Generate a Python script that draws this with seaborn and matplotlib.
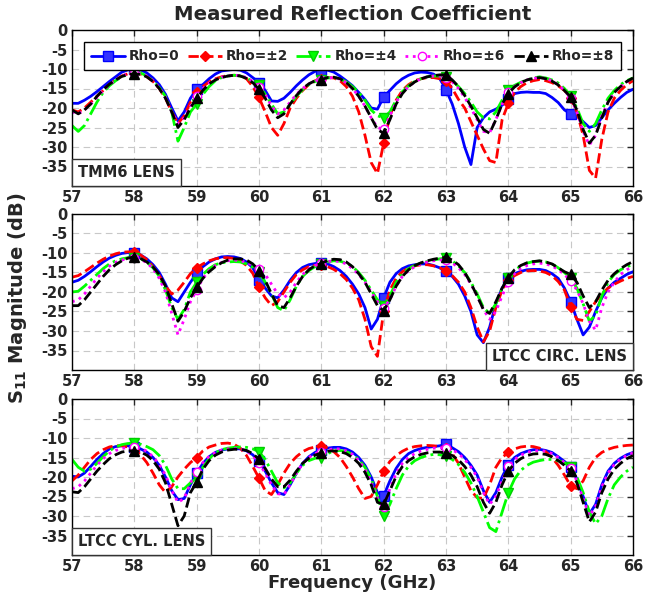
import numpy as np
import matplotlib
matplotlib.use("Agg")
import matplotlib.pyplot as plt
from matplotlib.lines import Line2D
from matplotlib.offsetbox import AnchoredText
import seaborn as sns

# ---------------- data ----------------
freq = np.round(np.linspace(57.0, 66.0, 91), 1)  # GHz, 0.1 GHz steps

series_labels = ["Rho=0", "Rho=\u00b12", "Rho=\u00b14", "Rho=\u00b16", "Rho=\u00b18"]
panel_titles = ["TMM6 LENS", "LTCC CIRC. LENS", "LTCC CYL. LENS"]
x_ticks = [57, 58, 59, 60, 61, 62, 63, 64, 65, 66]
y_ticks = [0, -5, -10, -15, -20, -25, -30, -35]

# TMM6 lens
tmm_rho0 = [-18.8, -18.8, -18, -17, -15.8, -14.5, -13.2, -12, -10.8, -10.2,
            -10.0, -10.2, -11, -12.3, -14, -16.5, -20, -23.3, -21, -17.5,
            -15.2, -14, -12.5, -11.3, -10.5, -10.3, -10.1, -10.3, -11, -12.2,
            -13.5, -15.5, -18.2, -18.3, -17.5, -16, -14.3, -12.8, -11.5, -10.6,
            -10.2, -10.3, -10.8, -11.8, -13, -14.3, -16, -17.8, -20, -20.3,
            -17.2, -15.5, -13.8, -12.5, -11.6, -11.0, -10.8, -10.9, -11.3, -12.5,
            -15.3, -19, -24, -30, -34.5, -25, -22.5, -21, -20.3, -19.3,
            -17.8, -16.3, -16, -15.9, -16, -16, -16.3, -17.3, -18.6, -20.5,
            -21.5, -22, -23.5, -25, -24.5, -22.5, -20.5, -18.8, -17.3, -16,
            -15.2]
tmm_rho2 = [-20.5, -21, -20, -18.5, -17, -15.5, -14, -12.8, -11.8, -11.2,
            -11.0, -11.3, -12, -13.2, -15, -17.5, -21, -24, -22, -18.5,
            -16, -14.5, -13.3, -12.5, -12, -11.7, -11.6, -11.7, -12.5, -14.5,
            -17.3, -21, -25, -27, -24, -20, -17.5, -15.5, -14, -13,
            -12.5, -12.2, -12.3, -13, -14.5, -17, -21, -27, -34, -36.8,
            -29, -22, -18, -15.5, -14, -13, -12.5, -12.2, -12.2, -12.5,
            -13, -15, -17.8, -20, -23.5, -27, -30.5, -33.5, -34, -23,
            -18.8, -16, -14.5, -13.5, -13, -12.7, -13, -13.5, -14.3, -15.5,
            -17.5, -21, -27, -36, -38, -28, -21, -17.5, -15.5, -14,
            -13]
tmm_rho4 = [-24.5, -26, -24.5, -21.5, -18.5, -16, -14.3, -13, -12, -11.3,
            -10.8, -11, -11.8, -13, -14.8, -17, -21, -28.5, -25, -21,
            -19, -16.5, -14.5, -13, -12.2, -11.8, -11.6, -11.8, -12.3, -13.2,
            -14.2, -16.5, -19, -21.5, -21, -19, -17, -15.3, -14, -13.2,
            -12.8, -12.3, -12.2, -12.5, -13.3, -14.5, -16, -18, -20.5, -22,
            -22.5, -21, -18, -15.8, -14.3, -13.2, -12.5, -12, -11.8, -11.8,
            -12, -13, -14.5, -16.3, -18.5, -21, -22.5, -22.8, -21, -18,
            -15.5, -14.2, -13.4, -12.8, -12.3, -12, -12.3, -12.8, -13.6, -15,
            -17, -20, -24, -26, -24, -20.5, -17.5, -15.5, -14, -13,
            -12.3]
tmm_rho6 = [-21, -21.5, -20.5, -19, -17.3, -15.5, -14, -12.8, -11.8, -11.2,
            -11, -11.2, -11.8, -13, -14.8, -17.3, -21, -24, -22.5, -19.5,
            -17, -15, -13.6, -12.7, -12.1, -11.8, -11.6, -11.7, -12.2, -13.2,
            -14.5, -16.5, -19.5, -21.5, -20.5, -18.5, -16.5, -15, -13.8, -13,
            -12.7, -12.3, -12.2, -12.6, -13.5, -15, -17, -19.5, -22.5, -25,
            -25.5, -22, -18.5, -16, -14.5, -13.3, -12.5, -12, -11.8, -11.8,
            -12.2, -13.3, -15, -17.3, -20, -23, -26, -26.3, -23, -19,
            -16, -14.5, -13.5, -12.8, -12.4, -12.2, -12.4, -13, -14, -15.5,
            -17.5, -21, -26, -29.5, -27, -22, -18.5, -16, -14.5, -13.3,
            -12.5]
tmm_rho8 = [-20.5, -21.5, -20.5, -19, -17, -15.3, -13.9, -12.8, -11.9, -11.4,
            -11.2, -11.4, -12, -13.2, -15, -17.5, -21, -25, -23, -20,
            -17.5, -15.5, -13.8, -12.8, -12.2, -11.8, -11.6, -11.8, -12.4, -13.5,
            -15.2, -17.5, -20.5, -22.5, -21.5, -19, -16.8, -15, -13.8, -13,
            -12.7, -12.2, -12.1, -12.5, -13.5, -15, -17, -19.5, -22.5, -25.5,
            -26.5, -23, -19, -16.3, -14.5, -13.3, -12.5, -12, -11.7, -11.5,
            -11.5, -12.8, -14.5, -16.8, -19.5, -22.5, -25.5, -26.5, -23, -19,
            -16.3, -14.6, -13.5, -12.8, -12.4, -12.2, -12.5, -13.1, -14.1, -15.5,
            -17.2, -20.5, -25.5, -29, -27, -22.5, -18.5, -16, -14.5, -13.2,
            -12.3]

# LTCC circular lens
circ_rho0 = [-17.5, -17, -16, -14.8, -13.5, -12.3, -11.3, -10.6, -10.1, -9.9,
             -10, -10.5, -11.5, -13, -15, -18, -21.5, -22.5, -20, -17.5,
             -15.3, -13.5, -12.3, -11.5, -11, -10.9, -11, -11.4, -12.3, -13.8,
             -16.8, -19, -21, -21.5, -19.5, -17, -15, -13.7, -13, -12.7,
             -12.6, -12.8, -13.5, -14.5, -16, -18, -20.5, -24, -29.5, -27,
             -21.5, -17.5, -15.3, -14, -13.3, -13, -12.8, -12.8, -13.2, -13.8,
             -14.5, -16, -18, -21, -25, -31, -33, -29, -23, -19,
             -16.5, -15.3, -14.7, -14.3, -14.2, -14.2, -14.5, -15.3, -16.5, -19,
             -22.5, -27, -31, -29, -25, -21.5, -19, -17.5, -16.5, -15.5,
             -14.8]
circ_rho2 = [-16.2, -15.8, -14.8, -13.7, -12.6, -11.6, -10.8, -10.2, -9.8, -9.7,
             -9.8, -10.5, -11.7, -13.5, -15.8, -18.5, -20.5, -19.5, -17.5, -15.3,
             -13.8, -12.8, -12, -11.5, -11.2, -11.2, -11.4, -12, -13.2, -15.2,
             -18.8, -21.5, -23.5, -22.5, -20, -17.5, -15.5, -14.3, -13.5, -13.2,
             -13.2, -13.5, -14.2, -15.3, -16.8, -19, -22, -27, -34, -36.5,
             -25, -19.5, -16.5, -14.8, -13.8, -13.3, -13, -13, -13.3, -13.8,
             -14.5, -15.8, -17.5, -20, -24, -29, -32.8, -30, -24, -19.5,
             -17, -15.8, -15, -14.6, -14.5, -14.6, -15, -15.8, -17.3, -19.5,
             -23.8, -27, -27.3, -25, -22.5, -20.5, -19, -18, -17.2, -16.5,
             -16]
circ_rho4 = [-20, -19.8, -18.5, -17, -15.5, -14, -12.8, -12, -11.5, -11.2,
             -11.2, -11.5, -12.3, -13.8, -16, -19.5, -24, -27, -24.5, -20,
             -17.5, -15.5, -14, -13, -12.5, -12.3, -12.2, -12.3, -12.8, -13.6,
             -15, -17.5, -20.5, -24, -24.8, -22, -18.5, -16, -14.5, -13.5,
             -12.8, -12.3, -12, -12.1, -12.6, -13.5, -15, -17, -19.5, -22,
             -23.5, -21, -17.5, -15.3, -14, -13.2, -12.6, -12.2, -11.8, -11.5,
             -11.3, -12, -13.3, -15, -17.5, -20.5, -24, -25.5, -23, -19,
             -16.3, -14.5, -13.3, -12.6, -12.2, -12.1, -12.3, -12.8, -13.8, -15,
             -16.5, -19, -23, -27.5, -26, -21, -17.5, -15.5, -14.3, -13.5,
             -13]
circ_rho6 = [-22.5, -22, -20.5, -18.5, -16.5, -14.8, -13.4, -12.4, -11.8, -11.4,
             -11.3, -11.6, -12.5, -14, -16.5, -20, -25.5, -31, -27, -22.5,
             -19.5, -16.5, -14.5, -13.2, -12.4, -12, -11.8, -12, -12.4, -13.2,
             -14, -15.5, -18, -20.5, -21.5, -20, -17.5, -15.5, -14, -13.2,
             -12.5, -12.2, -12, -12.2, -12.8, -14, -15.5, -17.5, -20, -22.5,
             -24, -22, -18.5, -16, -14.5, -13.5, -12.8, -12.3, -12, -11.8,
             -11.8, -12.5, -13.8, -15.5, -18, -21, -24.5, -27, -25, -21,
             -17.5, -15.3, -14, -13.2, -12.8, -12.6, -12.8, -13.3, -14.3, -15.5,
             -17.2, -19.5, -23, -27.5, -29.8, -24, -20, -17.5, -15.5, -14.3,
             -13.5]
circ_rho8 = [-23.5, -23.5, -22, -20, -18, -16, -14.3, -13, -12, -11.3,
             -11, -11.4, -12.3, -13.6, -15.5, -18.5, -23, -27.5, -25, -21.5,
             -18.8, -16.5, -14.8, -13.5, -12.5, -11.8, -11.5, -11.5, -11.8, -12.8,
             -14.5, -17, -20.5, -23.5, -24, -21.5, -18.5, -16, -14.3, -13.2,
             -12.7, -11.9, -11.6, -11.7, -12.3, -13.5, -15.3, -17.5, -20.5, -23.5,
             -24.8, -22, -18.5, -16, -14.3, -13.2, -12.5, -12, -11.6, -11.3,
             -11.1, -11.8, -13, -15, -17.8, -21, -24.5, -25.5, -22.5, -19,
             -16.3, -14.3, -13.2, -12.5, -12.2, -12, -12.3, -12.8, -13.8, -14.8,
             -15.5, -17.5, -21, -24, -22.5, -19.5, -17, -15.3, -14, -13,
             -12.2]

# LTCC cylindrical lens
cyl_rho0 = [-19.8, -20, -19, -17.3, -15.5, -14, -12.8, -12.2, -12, -12,
            -12.3, -12.8, -13.6, -15, -17, -20, -23.5, -25.8, -25.5, -22,
            -19, -16.5, -14.8, -13.7, -13.1, -12.8, -12.7, -12.8, -13.3, -14.3,
            -16, -18.5, -21.5, -24, -24.5, -22, -19, -16.5, -14.8, -13.7,
            -13, -12.6, -12.4, -12.4, -12.8, -13.6, -15, -17, -20, -24,
            -24.8, -21, -17.8, -15.5, -14, -13.2, -12.7, -12.4, -12.2, -12,
            -11.6, -12.5, -13.5, -15, -17, -19.5, -23.5, -26.5, -24, -20,
            -16.8, -15, -14, -13.4, -13, -12.9, -13.2, -13.7, -14.8, -16,
            -17.5, -20.5, -25, -29.5, -27, -22, -18.5, -16.5, -15.2, -14.3,
            -13.7]
cyl_rho2 = [-21, -19.5, -17.5, -15.5, -14, -13, -12.3, -12, -12, -12.3,
            -13, -14.3, -16.3, -19, -22, -24, -22.5, -20, -18, -16.3,
            -15, -13.3, -12.3, -11.8, -11.4, -11.3, -11.6, -12.6, -14.5, -17.3,
            -20.3, -23.5, -24.5, -22, -19, -16.5, -14.8, -13.5, -12.7, -12.3,
            -12, -12.5, -13.5, -15, -17.3, -20, -23, -25.5, -25, -22,
            -18.5, -16, -14.5, -13.4, -12.6, -12.2, -12, -11.9, -12, -12.2,
            -12.5, -14, -16.5, -20, -23.5, -25.3, -25.5, -22, -17.5, -15,
            -13.7, -12.8, -12.3, -12.1, -12.2, -12.6, -13.5, -15, -17, -19.5,
            -22.3, -23, -21, -17.5, -15, -13.7, -12.9, -12.4, -12.1, -11.9,
            -11.8]
cyl_rho4 = [-15.5, -17.5, -18.5, -18, -16.5, -14.8, -13.3, -12.3, -11.7, -11.4,
            -11.4, -11.6, -12.2, -13, -14.5, -17, -20.5, -23, -23, -21.5,
            -20.3, -17.5, -15.3, -13.8, -13, -12.6, -12.4, -12.3, -12.4, -12.8,
            -13.5, -15.5, -18.5, -21.5, -22.8, -21.5, -19, -17, -15.8, -15.2,
            -15, -14, -13.3, -13.2, -13.5, -14.2, -15.5, -17.5, -20.5, -25,
            -30, -27, -23, -19.5, -17.2, -15.8, -15, -14.5, -14.2, -14.3,
            -14.7, -15.5, -16.8, -18.8, -21.5, -25, -29, -33, -34, -29,
            -24, -20.5, -18.3, -17, -16.2, -15.8, -15.5, -15.5, -15.8, -16.3,
            -17.5, -20, -24, -29, -32, -30, -25.5, -22, -20, -18.5,
            -17.5]
cyl_rho6 = [-23, -22.5, -21, -19, -17, -15.3, -14, -13.2, -12.7, -12.4,
            -12.3, -12.6, -13.4, -14.8, -16.8, -19.5, -23.5, -26.5, -25.5, -21.5,
            -18.8, -16.3, -14.7, -13.7, -13.1, -12.8, -12.7, -12.8, -13.3, -14.5,
            -16.5, -19, -22, -24.3, -24.5, -22, -19, -16.5, -15, -14,
            -13.5, -13, -12.8, -12.8, -13.3, -14.2, -15.8, -18, -21.5, -25.5,
            -27.8, -23, -19, -16.5, -15, -14, -13.3, -12.9, -12.6, -12.5,
            -12.5, -13, -14, -15.5, -17.5, -20, -24, -27, -25, -21,
            -17.3, -15.5, -14.4, -13.7, -13.3, -13.2, -13.4, -14, -15, -16.3,
            -17.8, -21, -25.5, -30, -27.5, -22.5, -19, -16.8, -15.4, -14.5,
            -13.8]
cyl_rho8 = [-23.8, -24, -22.5, -20.5, -18.5, -16.8, -15.3, -14.3, -13.6, -13.3,
            -13.3, -13.6, -14.4, -15.8, -18, -21.5, -27, -32.5, -30, -24,
            -21.3, -18, -15.8, -14.4, -13.6, -13.1, -12.9, -12.9, -13.2, -14,
            -15.5, -17.8, -20.5, -22.5, -22.5, -20.8, -18.5, -16.5, -15.2, -14.4,
            -13.8, -13.4, -13.3, -13.5, -14, -15, -16.5, -18.8, -22, -26.5,
            -27, -23.5, -19.8, -17.3, -15.8, -14.8, -14.2, -13.8, -13.6, -13.6,
            -13.9, -14.5, -15.6, -17.3, -19.5, -22.5, -26.5, -29.3, -26.5, -22,
            -18.5, -16.5, -15.3, -14.5, -14.1, -14, -14.2, -14.8, -15.8, -17,
            -18.5, -21.5, -26.5, -31.5, -29, -24, -20.5, -18, -16.5, -15.3,
            -14.5]

panels = [
    [tmm_rho0, tmm_rho2, tmm_rho4, tmm_rho6, tmm_rho8],
    [circ_rho0, circ_rho2, circ_rho4, circ_rho6, circ_rho8],
    [cyl_rho0, cyl_rho2, cyl_rho4, cyl_rho6, cyl_rho8],
]

# ---------------- styles ----------------
styles = [
    dict(color="#0000ff", linestyle="-", marker="s", markersize=6.5,
         markerfacecolor="#3333ff", markeredgecolor="#0000ff"),
    dict(color="#ff0000", linestyle="--", marker="D", markersize=5.5,
         markerfacecolor="#ff0000", markeredgecolor="#ff0000"),
    dict(color="#00ff00", linestyle="-.", marker="v", markersize=7.5,
         markerfacecolor="#00ff00", markeredgecolor="#00cc00"),
    dict(color="#ff00ff", linestyle=":", marker="o", markersize=6,
         markerfacecolor="white", markeredgecolor="#ff00ff"),
    dict(color="#000000", linestyle="--", marker="^", markersize=7.5,
         markerfacecolor="#000000", markeredgecolor="#000000"),
]

sns.set_style("white")
plt.rcParams["font.family"] = ["DejaVu Sans"]
plt.rcParams["font.weight"] = "bold"
plt.rcParams["mathtext.default"] = "bf"

fig = plt.figure(figsize=(6.45, 5.97), dpi=100)
W, H = 645.0, 597.0
left_px, right_px = 72, 633
tops = [30, 214, 399]
height_px = 156
axes = []
for t in tops:
    ax = fig.add_axes([left_px / W, 1 - (t + height_px) / H,
                       (right_px - left_px) / W, height_px / H])
    axes.append(ax)

mark_idx = list(range(10, 90, 10))
box_locs = ["lower left", "lower right", "lower left"]

for pi, ax in enumerate(axes):
    for si, vals in enumerate(panels[pi]):
        st = styles[si]
        sns.lineplot(x=freq, y=np.array(vals), ax=ax, color=st["color"],
                     linestyle=st["linestyle"], linewidth=2.0,
                     marker=st["marker"], markersize=st["markersize"],
                     markerfacecolor=st["markerfacecolor"],
                     markeredgecolor=st["markeredgecolor"],
                     markeredgewidth=1.0, markevery=mark_idx,
                     estimator=None, sort=False, legend=False)
    ax.set_xlim(57, 66)
    ax.set_ylim(-40, 0)
    ax.set_xticks(x_ticks)
    ax.set_yticks(y_ticks)
    ax.set_xticklabels([str(v) for v in x_ticks], fontsize=10.5, fontweight="bold")
    ax.set_yticklabels([str(v) for v in y_ticks], fontsize=10.5, fontweight="bold")
    ax.tick_params(direction="in", top=True, right=True, length=4, width=1,
                   pad=3)
    ax.grid(True, color="#c8c8c8", linestyle=(0, (6, 4)), linewidth=0.8)
    ax.set_axisbelow(True)
    for sp in ax.spines.values():
        sp.set_color("black")
        sp.set_linewidth(1.0)
    ax.set_xlabel("")
    ax.set_ylabel("")
    at = AnchoredText(panel_titles[pi], loc=box_locs[pi], frameon=True,
                      borderpad=0.0, pad=0.4,
                      prop=dict(size=10.5, weight="bold"))
    at.patch.set_edgecolor("#333333")
    at.patch.set_linewidth(1.0)
    ax.add_artist(at)

handles = [Line2D([0], [0], color=st["color"], linestyle=st["linestyle"],
                  linewidth=2.0, marker=st["marker"],
                  markersize=st["markersize"],
                  markerfacecolor=st["markerfacecolor"],
                  markeredgecolor=st["markeredgecolor"])
           for st in styles]
leg = axes[0].legend(handles, series_labels, loc="upper center",
                     bbox_to_anchor=(0.5, 0.92), ncol=5, frameon=True,
                     fancybox=False, edgecolor="black", framealpha=1,
                     handlelength=2.5, handletextpad=0.3, columnspacing=0.6,
                     borderpad=0.5, borderaxespad=0.0,
                     prop=dict(size=9.8, weight="bold"))
leg.get_frame().set_linewidth(1.0)

fig.text((left_px + right_px) / 2 / W, 1 - 14 / H, "Measured Reflection Coefficient",
         ha="center", va="center", fontsize=14.2, fontweight="bold")
fig.text((left_px + right_px) / 2 / W, 1 - 583 / H, "Frequency (GHz)",
         ha="center", va="center", fontsize=13, fontweight="bold")
fig.text(18 / W, 0.5, r"$\mathbf{S_{11}}$ Magnitude (dB)", rotation=90,
         ha="center", va="center", fontsize=14, fontweight="bold")

fig.savefig("out.png", dpi=100, facecolor="white")
